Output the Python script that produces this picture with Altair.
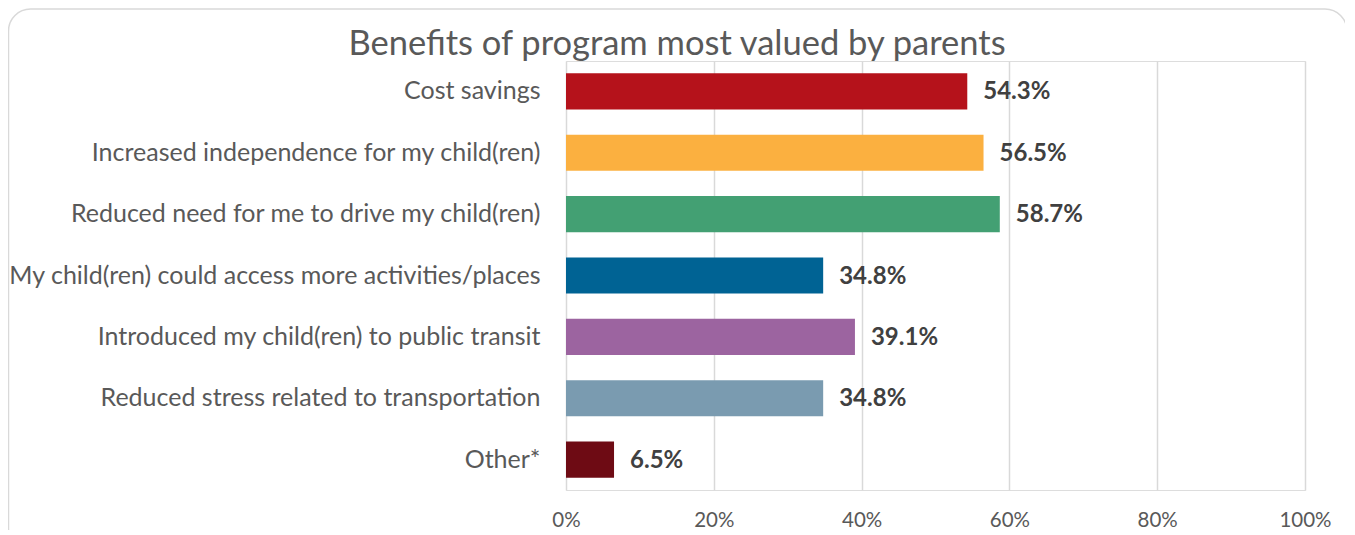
import altair as alt
import pandas as pd

categories = [
    "Cost savings",
    "Increased independence for my child(ren)",
    "Reduced need for me to drive my child(ren)",
    "My child(ren) could access more activities/places",
    "Introduced my child(ren) to public transit",
    "Reduced stress related to transportation",
    "Other*",
]
values = [54.3, 56.5, 58.7, 34.8, 39.1, 34.8, 6.5]
colors = ["#B5121B", "#FBB040", "#43A073", "#006394", "#9C64A0", "#7A9BB0", "#6E0B14"]
x_ticks = [0, 20, 40, 60, 80, 100]

df = pd.DataFrame({"cat": categories, "val": values, "color": colors})
df["label"] = df["val"].map(lambda v: f"{v:.1f}%")

W, H = 739, 429
FONT = "Lato"

y_enc = alt.Y("cat:N", sort=categories, title=None,
              scale=alt.Scale(paddingInner=0.41, paddingOuter=0.2),
              axis=alt.Axis(labelFontSize=25, labelColor="#595959", labelFont=FONT,
                            ticks=False, domain=False, labelPadding=26, labelLimit=700))
x_enc = alt.X("val:Q", title=None,
              scale=alt.Scale(domain=[0, 100], nice=False),
              axis=alt.Axis(values=x_ticks, labelExpr="datum.value + '%'",
                            labelFontSize=20.5, labelColor="#595959", labelFont=FONT,
                            labelFlush=False,
                            ticks=False, domain=False, grid=True, gridColor="#D9D9D9",
                            gridWidth=1.5, labelPadding=20))

base = alt.Chart(df)

bars = base.mark_bar().encode(
    x=x_enc, y=y_enc,
    color=alt.Color("color:N", scale=None),
)

labels = base.mark_text(align="left", baseline="middle", dx=16, dy=1, fontSize=24,
                        fontWeight="bold", color="#404040", font=FONT).encode(
    x="val:Q", y=alt.Y("cat:N", sort=categories), text="label:N"
)

border = alt.Chart(pd.DataFrame({"a": [0]})).mark_rect(
    fill=None, stroke="#D9D9D9", strokeWidth=1.5, cornerRadius=22
).encode(x=alt.value(-557.5), x2=alt.value(781), y=alt.value(-52), y2=alt.value(490))

title = alt.Chart(pd.DataFrame({"t": ["Benefits of program most valued by parents"]})).mark_text(
    fontSize=34.5, color="#595959", font=FONT, align="center", baseline="middle"
).encode(text="t:N", x=alt.value(111), y=alt.value(-16))

chart = alt.layer(border, bars, labels, title).properties(
    width=W, height=H,
    autosize=alt.AutoSizeParams(type="none"),
    padding={"left": 558, "top": 53, "right": 40, "bottom": 40},
).configure_view(stroke=None).configure(background="white")

chart.save("out.html", embed_options={"renderer": "svg", "actions": False})
